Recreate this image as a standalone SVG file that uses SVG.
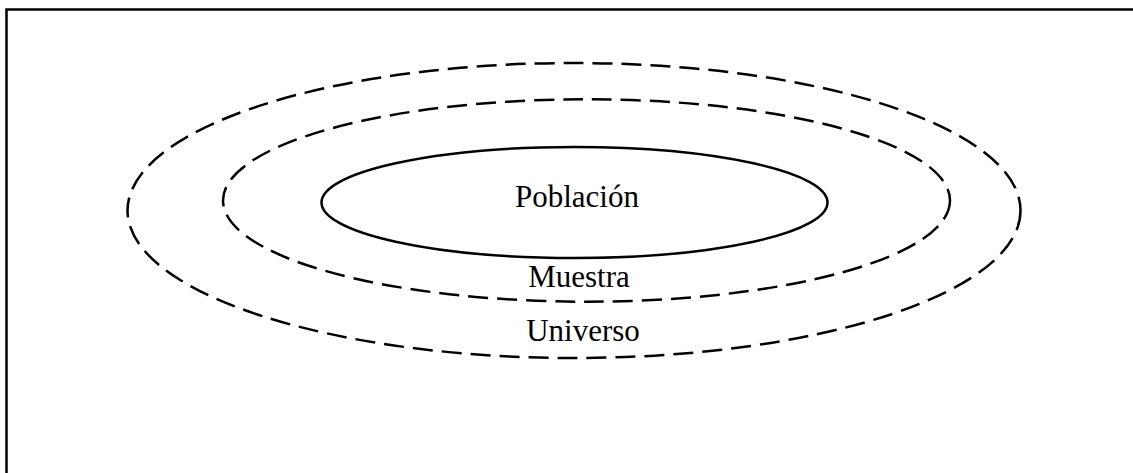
<svg xmlns="http://www.w3.org/2000/svg" width="1133" height="473" viewBox="0 0 1133 473">
<style>
.dash{fill:none;stroke:#000;stroke-width:2.5;stroke-dasharray:20 9}
.solid{fill:none;stroke:#000;stroke-width:2.5}
.lbl{font-family:"Liberation Serif","Times New Roman",serif;font-size:31px;fill:#000;text-anchor:middle}
</style>
<rect x="0" y="0" width="1133" height="473" fill="#fff"/>
<rect id="frame" x="6.5" y="9.5" width="1140" height="480" fill="none" stroke="#000" stroke-width="2.5"/>
<g id="universo">
<ellipse class="dash" cx="574" cy="210.5" rx="446.5" ry="147.5"/>
<text class="lbl" x="583" y="341">Universo</text>
</g>
<g id="muestra">
<ellipse class="dash" cx="586.5" cy="200.5" rx="363.5" ry="101.2"/>
<text class="lbl" x="579" y="287">Muestra</text>
</g>
<g id="poblacion">
<ellipse class="solid" cx="574.5" cy="202.5" rx="253" ry="55.5"/>
<text class="lbl" x="577" y="207">Población</text>
</g>
<g id="connectors"/>
</svg>
